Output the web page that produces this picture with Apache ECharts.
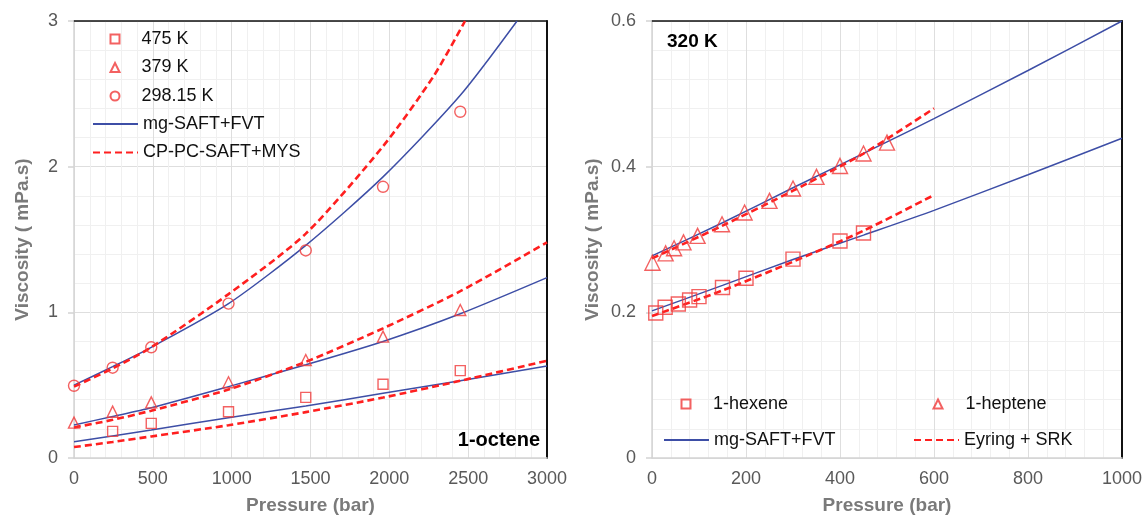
<!DOCTYPE html>
<html>
<head>
<meta charset="utf-8">
<script src="https://cdn.jsdelivr.net/npm/echarts@6/dist/echarts.min.js"></script>
<style>
  html, body { margin: 0; padding: 0; background: #fff; }
  #chart { width: 1147px; height: 517px; }
</style>
</head>
<body>
<div id="chart"></div>
<script>
// ---- 1-octene viscosity, measured points [pressure (bar), viscosity (mPa.s)] ----
const octene475K = [[245, 0.183], [490, 0.238], [980, 0.318], [1470, 0.416], [1960, 0.506], [2450, 0.600]];
const octene379K = [[0, 0.243], [245, 0.318], [490, 0.382], [980, 0.520], [1470, 0.673], [1960, 0.833], [2450, 1.016]];
const octene298K = [[0, 0.496], [245, 0.620], [490, 0.760], [980, 1.060], [1470, 1.425], [1960, 1.862], [2450, 2.377]];

// mg-SAFT+FVT model curves (1-octene)
const mgOct475 = [[0, 0.112], [490, 0.192], [980, 0.277], [1470, 0.357], [1960, 0.444], [2450, 0.530], [3000, 0.632]];
const mgOct379 = [[0, 0.227], [245, 0.285], [490, 0.345], [980, 0.490], [1470, 0.640], [1960, 0.800], [2450, 0.990], [3000, 1.238]];
const mgOct298 = [[0, 0.500], [245, 0.627], [490, 0.760], [980, 1.060], [1470, 1.460], [1960, 1.930], [2450, 2.490], [2810, 3.000]];

// CP-PC-SAFT+MYS model curves (1-octene)
const cpOct475 = [[0, 0.075], [245, 0.110], [490, 0.148], [980, 0.225], [1470, 0.315], [1960, 0.415], [2450, 0.530], [3000, 0.668]];
const cpOct379 = [[0, 0.210], [245, 0.262], [490, 0.325], [980, 0.470], [1470, 0.660], [1960, 0.890], [2450, 1.145], [3000, 1.480]];
const cpOct298 = [[0, 0.490], [245, 0.615], [490, 0.760], [980, 1.125], [1470, 1.540], [1960, 2.140], [2280, 2.620], [2480, 3.000]];

// ---- 320 K: 1-hexene and 1-heptene measured points ----
const hexene320K = [[8, 0.199], [28, 0.207], [56, 0.2115], [80, 0.217], [100, 0.2215], [150, 0.234], [200, 0.2467], [300, 0.273], [400, 0.298], [450, 0.309]];
const heptene320K = [[1, 0.268], [29, 0.281], [47, 0.288], [67, 0.296], [97, 0.305], [149, 0.321], [197, 0.337], [250, 0.353], [300, 0.370], [350, 0.386], [400, 0.401], [450, 0.418], [500, 0.433]];

// mg-SAFT+FVT and Eyring + SRK curves at 320 K
const mgHex = [[0, 0.202], [150, 0.237], [300, 0.2725], [450, 0.306], [600, 0.340], [800, 0.389], [1000, 0.439]];
const mgHep = [[0, 0.2775], [150, 0.323], [300, 0.371], [500, 0.434], [600, 0.466], [800, 0.532], [1000, 0.600]];
const eyHex = [[0, 0.195], [150, 0.230], [300, 0.2695], [450, 0.312], [600, 0.361]];
const eyHep = [[0, 0.274], [150, 0.319], [300, 0.367], [450, 0.418], [600, 0.480]];

// axis tick settings
const octeneXTicks = { min: 0, max: 3000, interval: 500 };
const octeneYTicks = { min: 0, max: 3, interval: 1 };
const c320XTicks = { min: 0, max: 1000, interval: 200 };
const c320YTicks = { min: 0, max: 0.6, interval: 0.2 };

const BLUE = '#3d4ea6';
const RED = '#ff1f1f';
const MARK = '#f03a3a';
const FONT = '"Liberation Sans", Arial, sans-serif';

const chart = echarts.init(document.getElementById('chart'), null, { renderer: 'canvas' });

const plainNumber = v => String(Math.round(v * 1000) / 1000);

function mainX(gridIndex, t, name) {
  return {
    type: 'value', gridIndex, position: 'bottom',
    min: t.min, max: t.max, interval: t.interval,
    name, nameLocation: 'middle', nameGap: 38, nameMoveOverlap: false,
    nameTextStyle: { fontFamily: FONT, fontSize: 19, fontWeight: 'bold', color: '#7a7a7a' },
    axisLine: { show: true, onZero: false, lineStyle: { color: '#d4d4d4', width: 1.5 } },
    axisTick: { show: false },
    axisLabel: { show: true, margin: 12, fontFamily: FONT, fontSize: 18, color: '#595959', formatter: plainNumber, hideOverlap: false, showMinLabel: true, showMaxLabel: true },
    splitLine: { show: true, lineStyle: { color: '#dedede', width: 1 } },
    minorTick: { show: false, splitNumber: 5 },
    minorSplitLine: { show: true, lineStyle: { color: '#f0f0f0', width: 1 } }
  };
}
function mainY(gridIndex, t, gap) {
  return {
    type: 'value', gridIndex, position: 'left',
    min: t.min, max: t.max, interval: t.interval,
    name: 'Viscosity ( mPa.s)', nameLocation: 'middle', nameGap: gap, nameMoveOverlap: false,
    nameTextStyle: { fontFamily: FONT, fontSize: 19, fontWeight: 'bold', color: '#7a7a7a' },
    axisLine: { show: true, onZero: false, lineStyle: { color: '#d4d4d4', width: 1.5 } },
    axisTick: { show: true, inside: false, length: 6, lineStyle: { color: '#d4d4d4', width: 1.5 } },
    axisLabel: { show: true, margin: 16, fontFamily: FONT, fontSize: 18, color: '#595959', formatter: plainNumber, showMinLabel: true, showMaxLabel: true },
    splitLine: { show: true, lineStyle: { color: '#dedede', width: 1 } },
    minorTick: { show: false, splitNumber: 5 },
    minorSplitLine: { show: true, lineStyle: { color: '#f0f0f0', width: 1 } }
  };
}
// frame edges (top and right) drawn as bare axis lines
function frameX(gridIndex, t) {
  return {
    type: 'value', gridIndex, position: 'top', min: t.min, max: t.max, interval: t.interval,
    axisLine: { show: true, onZero: false, lineStyle: { color: '#111', width: 1.5 } },
    axisTick: { show: false }, axisLabel: { show: false }, splitLine: { show: false }
  };
}
function frameY(gridIndex, t) {
  return {
    type: 'value', gridIndex, position: 'right', min: t.min, max: t.max, interval: t.interval,
    axisLine: { show: true, onZero: false, lineStyle: { color: '#111', width: 2 } },
    axisTick: { show: false }, axisLabel: { show: false }, splitLine: { show: false }
  };
}

function points(name, data, symbol, size, xi, yi) {
  return {
    name, type: 'scatter', xAxisIndex: xi, yAxisIndex: yi, data,
    symbol, symbolSize: size, z: 5,
    itemStyle: { color: 'rgba(255,255,255,0)', borderColor: MARK, borderWidth: 1.4 }
  };
}
function curve(name, data, dashed, xi, yi) {
  return {
    name, type: 'line', xAxisIndex: xi, yAxisIndex: yi, data,
    smooth: 0.25, showSymbol: false, symbol: 'none', z: 3,
    lineStyle: dashed ? { color: RED, width: 2.6, type: [7, 4] } : { color: BLUE, width: 1.5, type: 'solid' },
    itemStyle: { color: dashed ? RED : BLUE }
  };
}

const legendText = { fontFamily: FONT, fontSize: 18, color: '#111', lineHeight: 20 };
// legend entry for a model curve: line only, no marker
const lineEntry = name => ({ name, itemStyle: { opacity: 0 } });

// legend block for measured points: small symbols, text pushed right to line up with curve entries
function markLegend(left, top, names, pad) {
  return {
    orient: 'vertical', left, top, padding: 0, itemWidth: 9, itemHeight: 9, itemGap: 8.5,
    textStyle: Object.assign({}, legendText, { padding: [0, 0, 0, pad] }), selectedMode: false,
    data: names
  };
}
function lineLegend(left, top, names) {
  return {
    orient: 'vertical', left, top, padding: 0, itemWidth: 45, itemHeight: 10, itemGap: 8.5,
    textStyle: legendText, selectedMode: false,
    data: names.map(lineEntry)
  };
}

chart.setOption({
  animation: false,
  backgroundColor: '#fff',
  grid: [
    { left: 74, top: 21, width: 473, height: 437, outerBoundsMode: 'none', containLabel: false },
    { left: 652, top: 21, width: 470, height: 437, outerBoundsMode: 'none', containLabel: false }
  ],
  xAxis: [
    mainX(0, octeneXTicks, 'Pressure (bar)'),
    mainX(1, c320XTicks, 'Pressure (bar)'),
    frameX(0, octeneXTicks),
    frameX(1, c320XTicks)
  ],
  yAxis: [
    mainY(0, octeneYTicks, 42),
    mainY(1, c320YTicks, 50),
    frameY(0, octeneYTicks),
    frameY(1, c320YTicks)
  ],
  legend: [
    markLegend(109.5, 29, ['475 K', '379 K', '298.15 K'], 17),
    lineLegend(92, 114, ['mg-SAFT+FVT', 'CP-PC-SAFT+MYS']),
    markLegend(680.5, 394, ['1-hexene'], 17.5),
    lineLegend(663, 430, ['mg-SAFT+FVT']),
    markLegend(932.5, 394, ['1-heptene'], 18),
    lineLegend(913, 430, ['Eyring + SRK'])
  ],
  title: [
    { text: '320 K', left: 662, top: 27, textStyle: { fontFamily: FONT, fontSize: 19, fontWeight: 'bold', color: '#000' } },
    { text: '1-octene', right: 602, top: 425, textStyle: { fontFamily: FONT, fontSize: 20, fontWeight: 'bold', color: '#000' } }
  ],
  series: [
    curve('mg-SAFT+FVT', mgOct475, false, 0, 0),
    curve('mg-SAFT+FVT', mgOct379, false, 0, 0),
    curve('mg-SAFT+FVT', mgOct298, false, 0, 0),
    curve('CP-PC-SAFT+MYS', cpOct475, true, 0, 0),
    curve('CP-PC-SAFT+MYS', cpOct379, true, 0, 0),
    curve('CP-PC-SAFT+MYS', cpOct298, true, 0, 0),
    points('475 K', octene475K, 'rect', 10, 0, 0),
    points('379 K', octene379K, 'triangle', 11, 0, 0),
    points('298.15 K', octene298K, 'circle', 11, 0, 0),

    curve('mg-SAFT+FVT', mgHex, false, 1, 1),
    curve('mg-SAFT+FVT', mgHep, false, 1, 1),
    curve('Eyring + SRK', eyHex, true, 1, 1),
    curve('Eyring + SRK', eyHep, true, 1, 1),
    points('1-hexene', hexene320K, 'rect', 14, 1, 1),
    points('1-heptene', heptene320K, 'triangle', 15, 1, 1)
  ]
});
</script>
</body>
</html>
